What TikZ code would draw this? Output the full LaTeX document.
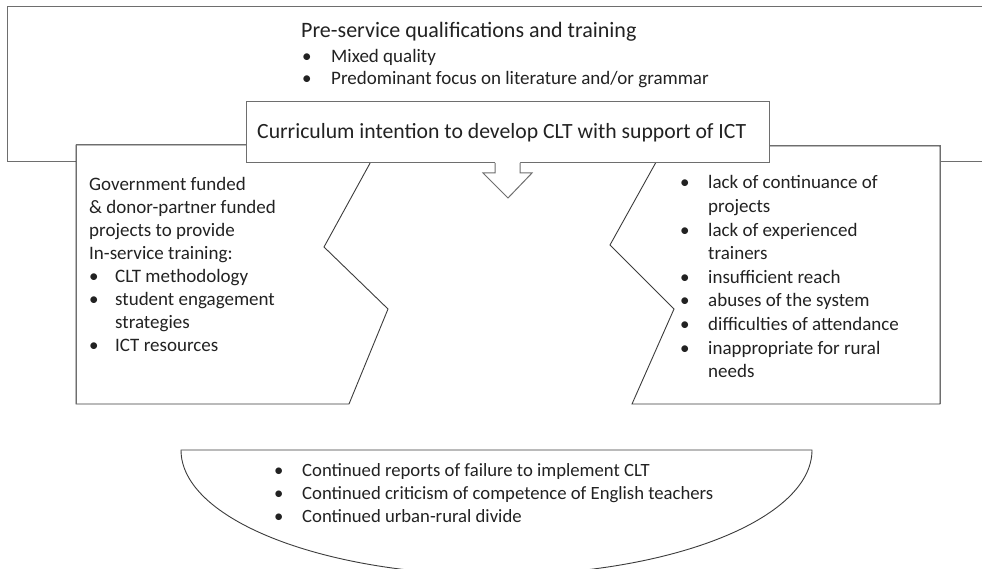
\documentclass[tikz,border=0pt]{standalone}
\usepackage{fontspec}
\setmainfont{Carlito}
\definecolor{boxline}{HTML}{6E6E6E}
\definecolor{tornline}{HTML}{3C3C3C}
\definecolor{inkgray}{HTML}{222222}
\tikzset{panel/.style={draw=boxline,line width=1pt,fill=white},
         torn/.style={draw=tornline,line width=0.9pt,fill=white},
         txt/.style={inner sep=0pt,anchor=base west,text=inkgray,font=\fontsize{19}{23}\selectfont},
        }
\newcommand{\bt}{\textbullet}

\begin{document}
\begin{tikzpicture}[x=1pt,y=-1pt]
        \clip (0,0) rectangle (982,569);

        \draw[panel](7,7) rectangle (1000,162);
        \draw[torn](76,145)--(380,145)--(324,247)--(388,309)--(349,404)--(76,404)--cycle;
        \draw[torn](665,146)--(940,146)--(940,404)--(632,404)--(674,309)--(610,245)--cycle;
        \draw[boxline,line width=1pt](76,145)--(246,145) (769,146)--(940,146)--(940,404) (76,145)--(76,404);
        \draw[panel](246,102) rectangle (769,163);

        \fill[white](495,161)--(495,173)--(483,173)--(508,198)--(532,173)--(520,173)--(520,161)--cycle;
        \draw[boxline,line width=1pt](495,163)--(495,173)--(483,173)--(508,198)--(532,173)--(520,173)--(520,163);

        \draw[torn](181,450)--(812,450) arc[start angle=0,end angle=180,x radius=315.5,y radius=125]--cycle;

        \node[txt,font=\fontsize{22}{24}\selectfont](pre)at(301,38){Pre-service qualifications and training};
        \node[txt,font=\fontsize{19}{22}\selectfont](prelist)at(302,63){\begin{tabular}[t]{@{}p{29pt}@{}l@{}}
            \bt & Mixed quality\\
            \bt & Predominant focus on literature and/or grammar
        \end{tabular}};

        \node[txt,font=\fontsize{21.7}{24}\selectfont](curr)at(257,139){Curriculum intention to develop CLT with support of ICT};

        \node[txt](inserv)at(89,191){\begin{tabular}[t]{@{}p{26pt}@{}l@{}}
            \multicolumn{2}{@{}l@{}}{Government funded}\\
            \multicolumn{2}{@{}l@{}}{\& donor-partner funded}\\
            \multicolumn{2}{@{}l@{}}{projects to provide}\\
            \multicolumn{2}{@{}l@{}}{In-service training:}\\
            \bt & CLT methodology\\
            \bt & student engagement\\
                & strategies\\
            \bt & ICT resources
        \end{tabular}};

        \node[txt,font=\fontsize{19}{23.6}\selectfont](limits)at(680,189){\begin{tabular}[t]{@{}p{28pt}@{}l@{}}
            \bt & lack of continuance of\\
                & projects\\
            \bt & lack of experienced\\
                & trainers\\
            \bt & insufficient reach\\
            \bt & abuses of the system\\
            \bt & difficulties of attendance\\
            \bt & inappropriate for rural\\
                & needs
        \end{tabular}};

        \node[txt,font=\fontsize{18.7}{23}\selectfont](outcome)at(274,476){\begin{tabular}[t]{@{}p{28pt}@{}l@{}}
            \bt & Continued reports of failure to implement CLT\\
            \bt & Continued criticism of competence of English teachers\\
            \bt & Continued urban-rural divide
        \end{tabular}};
    \end{tikzpicture}
\end{document}
